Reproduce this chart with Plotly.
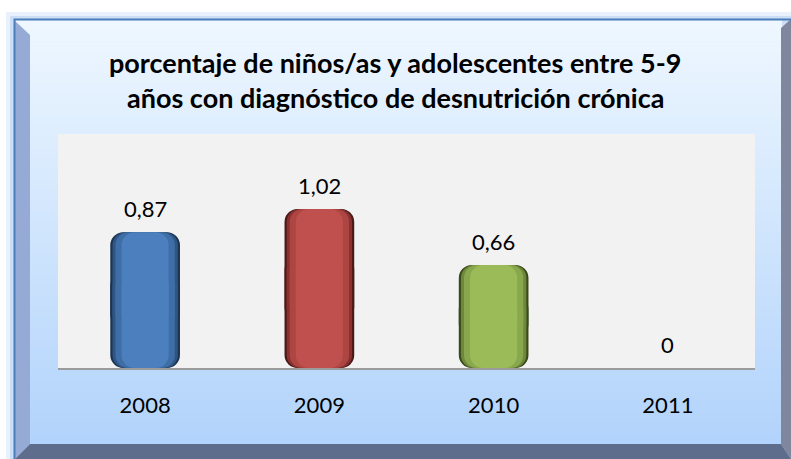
import plotly.graph_objects as go

# ---- data ----
categories = ["2008", "2009", "2010", "2011"]
values = [0.87, 1.02, 0.66, 0]
title_lines = ["porcentaje de niños/as y adolescentes entre 5-9",
               "años con diagnóstico de desnutrición crónica"]

# shading layers (outer -> inner): widths and colours per bar
layer_widths = [0.40, 0.375, 0.34, 0.27]
layer_colors = [
    ["#1d3350", "#4a1918", "#3a4a1c", "#1d3350"],
    ["#2e5684", "#8a3130", "#6d883a", "#2e5684"],
    ["#3f6ea7", "#ad4643", "#89a74d", "#3f6ea7"],
    ["#4c7fbd", "#c0504d", "#9bbb59", "#4c7fbd"],
]

W, H = 791, 459


def px(x):
    return x / W


def py(y):
    return 1 - y / H


def path(points):
    return "M " + " L ".join(f"{px(x):.5f},{py(y):.5f}" for x, y in points) + " Z"


fig = go.Figure()
idx = list(range(len(categories)))

for w, cols in zip(layer_widths, layer_colors):
    # upper part (rounded top), from 30% of value up to the value
    fig.add_trace(go.Bar(x=categories, y=[v * 0.7 for v in values], base=[v * 0.3 for v in values],
                         width=[w] * len(values),
                         marker=dict(color=cols, line=dict(width=0), cornerradius=13),
                         hoverinfo="skip", showlegend=False))
    # lower part (rounded bottom), from 70% of value down to zero
    fig.add_trace(go.Bar(x=categories, y=[-v * 0.7 for v in values], base=[v * 0.7 for v in values],
                         width=[w] * len(values),
                         marker=dict(color=cols, line=dict(width=0), cornerradius=13),
                         hoverinfo="skip", showlegend=False))

shapes = []
# outer soft glow
shapes.append(dict(type="rect", xref="paper", yref="paper", x0=px(6), x1=1, y0=0, y1=py(12),
                   fillcolor="rgba(190,215,245,0.35)", line=dict(width=0), layer="below"))
shapes.append(dict(type="rect", xref="paper", yref="paper", x0=px(10), x1=1, y0=0, y1=py(16),
                   fillcolor="rgba(170,200,240,0.45)", line=dict(width=0), layer="below"))
# gradient background
top_c = (238, 247, 255)
bot_c = (178, 211, 251)
y_top, y_bot = 20, 444
n = 40
for i in range(n):
    t = i / (n - 1)
    c = tuple(round(top_c[k] + (bot_c[k] - top_c[k]) * t) for k in range(3))
    ya = y_top + (y_bot - y_top) * i / n
    yb = y_top + (y_bot - y_top) * (i + 1) / n + 0.5
    shapes.append(dict(type="rect", xref="paper", yref="paper", x0=px(15), x1=px(782),
                       y0=py(yb), y1=py(ya), fillcolor="rgb(%d,%d,%d)" % c,
                       line=dict(width=0), layer="below"))
# left bevel
shapes.append(dict(type="path", xref="paper", yref="paper",
                   path=path([(15, 21), (30, 35), (30, 444), (15, 459)]),
                   fillcolor="#96aad6", line=dict(width=0), layer="below"))
# right bevel
shapes.append(dict(type="path", xref="paper", yref="paper",
                   path=path([(791, 19), (781, 28), (781, 444), (791, 459)]),
                   fillcolor="#7f879e", line=dict(width=0), layer="below"))
# bottom bevel
shapes.append(dict(type="path", xref="paper", yref="paper",
                   path=path([(30, 444), (781, 444), (791, 459), (15, 459)]),
                   fillcolor="#5f6d8c", line=dict(width=0), layer="below"))
# border line
shapes.append(dict(type="path", xref="paper", yref="paper",
                   path="M %.5f,0 L %.5f,%.5f L 1,%.5f" % (px(14.5), px(14.5), py(19.5), py(19.5)),
                   line=dict(color="#4a7ebb", width=2), layer="below"))
# plot area
shapes.append(dict(type="rect", xref="x domain", yref="y domain", x0=0, x1=1, y0=0, y1=1,
                   fillcolor="#f2f2f2", line=dict(width=0), layer="below"))

annotations = []
for i, v in zip(idx, values):
    label = "0" if v == 0 else f"{v:.2f}".replace(".", ",")
    annotations.append(dict(x=i, y=v, xref="x", yref="y", text=label, showarrow=False,
                            yanchor="bottom", yshift=8,
                            font=dict(family="Lato", size=22, color="#000000")))
for i, line in enumerate(title_lines):
    annotations.append(dict(x=px(395), y=py(63 + 35 * i), xref="paper", yref="paper",
                            text="<b>" + line + "</b>", showarrow=False,
                            xanchor="center", yanchor="middle",
                            font=dict(family="Lato", size=27, color="#000000")))

fig.update_layout(
    width=W, height=H,
    margin=dict(l=0, r=0, t=0, b=0),
    paper_bgcolor="#ffffff",
    plot_bgcolor="rgba(0,0,0,0)",
    barmode="overlay",
    shapes=shapes,
    annotations=annotations,
    xaxis=dict(domain=[px(58), px(755)], type="category", range=[-0.5, 3.5],
               showline=True, linecolor="#9b9b9b", linewidth=2,
               showgrid=False, zeroline=False,
               ticks="outside", ticklen=17, tickcolor="rgba(0,0,0,0)",
               tickfont=dict(family="Lato", size=22, color="#000000")),
    yaxis=dict(domain=[py(368), py(134)], range=[0, 1.5], visible=False,
               showgrid=False, zeroline=False),
)

fig.write_html("out.html", config={"displayModeBar": False},
               post_script="document.body.style.margin='0';")
